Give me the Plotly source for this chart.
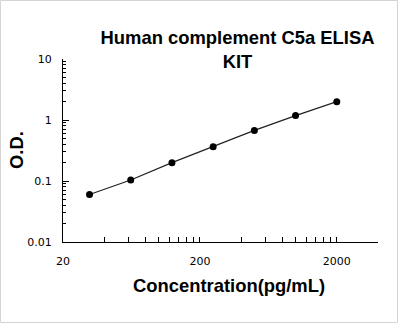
import numpy as np
import plotly.graph_objects as go

concentration = [31.25, 62.5, 125, 250, 500, 1000, 2000]
od_values = [0.06, 0.104, 0.2, 0.365, 0.675, 1.18, 2.0]

x_ticks = [20, 200, 2000]
x_ticktext = ["20", "200", "2000"]
x_minor = [40, 60, 80, 100, 120, 140, 160, 180,
           400, 600, 800, 1000, 1200, 1400, 1600, 1800, 4000]
y_ticks = [0.01, 0.1, 1, 10]
y_ticktext = ["0.01", "0.1", "1", "10"]
y_minor = [k * 10.0 ** e for e in (-2, -1, 0) for k in range(2, 10)]

W, H = 398, 323
L, R, T, B = 63, 20, 59, 81
pw, ph = W - L - R, H - T - B

fig = go.Figure()
fig.add_trace(go.Scatter(
    x=concentration, y=od_values, mode="lines+markers",
    line=dict(color="#222222", width=1.2),
    marker=dict(color="#000000", size=7),
    showlegend=False, hoverinfo="skip"))

bold = dict(family="Arial, Liberation Sans", size=18.4, color="#000000", weight="bold")
tickfont = dict(family="DejaVu Sans", size=11, color="#000000")
fig.update_layout(
    width=W, height=H,
    margin=dict(l=L, r=R, t=T, b=B, pad=0),
    paper_bgcolor="white", plot_bgcolor="white",
    title=dict(text="Human complement C5a ELISA<br>KIT",
               font=bold,
               x=(237.5 - L) / pw, xref="paper", xanchor="center",
               y=1 - 44 / H, yref="container", yanchor="top"),
    xaxis=dict(type="log", range=[np.log10(20), np.log10(4000)],
               tickmode="array", tickvals=x_ticks, ticktext=x_ticktext,
               ticks="inside", ticklen=5, tickcolor="#000000", tickwidth=1,
               minor=dict(tickmode="array", tickvals=x_minor, ticks="inside",
                          ticklen=5, tickcolor="#000000", tickwidth=1, showgrid=False),
               showline=True, linecolor="#000000", linewidth=1, mirror=False,
               showgrid=False, zeroline=False, tickfont=tickfont,
               ticklabelstandoff=9),
    yaxis=dict(type="log", range=[-2, 1],
               tickmode="array", tickvals=y_ticks, ticktext=y_ticktext,
               ticks="inside", ticklen=6, tickcolor="#000000", tickwidth=1,
               minor=dict(tickmode="array", tickvals=y_minor, ticks="inside",
                          ticklen=3, tickcolor="#000000", tickwidth=1, showgrid=False),
               showline=True, linecolor="#000000", linewidth=1, mirror=False,
               showgrid=False, zeroline=False, tickfont=tickfont,
               ticklabelstandoff=8),
    annotations=[
        dict(text="O.D.", xref="paper", yref="paper",
             x=(16 - L) / pw, y=(H - B - 150) / ph, xanchor="center", yanchor="middle",
             textangle=-90, showarrow=False, font=bold),
        dict(text="Concentration(pg/mL)", xref="paper", yref="paper",
             x=(229 - L) / pw, y=-(285 - (H - B)) / ph, xanchor="center", yanchor="middle",
             showarrow=False, font=bold),
    ],
    shapes=[dict(type="rect", xref="paper", yref="paper",
                 x0=(0.5 - L) / pw, x1=(W - 0.5 - L) / pw,
                 y0=-(H - 0.5 - (H - B)) / ph, y1=(H - B - 0.5) / ph,
                 line=dict(color="#d4d4d4", width=1), fillcolor="rgba(0,0,0,0)", layer="below")],
)

fig.write_html("out.html")
